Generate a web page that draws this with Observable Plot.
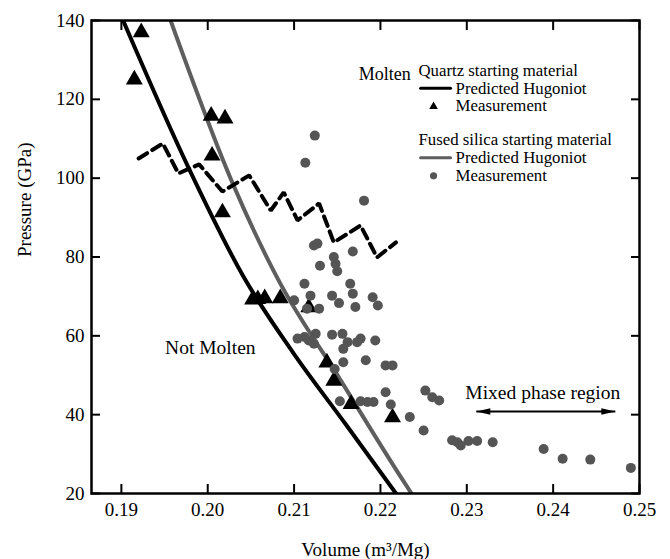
<!DOCTYPE html>
<html>
<head>
<meta charset="utf-8">
<script src="https://cdn.jsdelivr.net/npm/d3@7"></script>
<script src="https://cdn.jsdelivr.net/npm/@observablehq/plot@0.6"></script>
<style>
  body { margin: 0; background: #fff; }
  #chart svg { display: block; }
</style>
</head>
<body>
<div id="chart"></div>
<script>
// ---- Data ----
const xTicks = [0.19, 0.20, 0.21, 0.22, 0.23, 0.24, 0.25];
const yTicks = [20, 40, 60, 80, 100, 120, 140];

// Predicted Hugoniot, quartz starting material
const quartzHugV = [0.1902, 0.1977, 0.2042, 0.2098, 0.2160, 0.2218];
const quartzHugP = [140, 103, 74.8, 56, 37.5, 20];

// Predicted Hugoniot, fused silica starting material
const silicaHugV = [0.1957, 0.2030, 0.2081, 0.2154, 0.2225, 0.2236];
const silicaHugP = [140, 98.1, 74.5, 48.7, 23.7, 20];

// Melting boundary (dashed)
const meltV = [0.1920, 0.1948, 0.1966, 0.1990, 0.2017, 0.2048, 0.2073, 0.2088, 0.2104, 0.2129, 0.2146, 0.2177, 0.2196, 0.2218];
const meltP = [105.0, 108.8, 101.2, 103.5, 96.6, 100.7, 91.8, 96.4, 89.3, 93.6, 83.7, 88.0, 79.9, 83.7];

// Quartz measurements (triangles)
const quartzV = [0.1923, 0.1915, 0.2004, 0.2020, 0.2005, 0.2017, 0.2052, 0.2058, 0.2066, 0.2084, 0.2117, 0.2138, 0.2146, 0.2166, 0.2214];
const quartzP = [137.0, 125.0, 115.8, 115.1, 105.7, 91.3, 69.2, 69.3, 69.5, 69.5, 67.2, 53.2, 48.6, 42.7, 39.3];

// Fused silica measurements (circles)
const silicaV = [0.2124, 0.2113, 0.2181, 0.2127, 0.2123, 0.2168, 0.2130, 0.2146, 0.2148, 0.2150,
                 0.2112, 0.2165, 0.2119, 0.2144, 0.2168, 0.2191, 0.2152, 0.2171, 0.2197, 0.2100,
                 0.2115, 0.2129, 0.2104, 0.2112, 0.2117, 0.2125, 0.2123, 0.2144, 0.2156, 0.2162,
                 0.2173, 0.2177, 0.2194, 0.2157, 0.2157, 0.2183, 0.2206, 0.2214, 0.2147, 0.2206,
                 0.2252, 0.2260, 0.2268, 0.2153, 0.2177, 0.2185, 0.2192, 0.2212, 0.2234, 0.2250,
                 0.2283, 0.2289, 0.2293, 0.2302, 0.2312, 0.2330, 0.2389, 0.2411, 0.2443, 0.2490];
const silicaP = [110.8, 103.9, 94.3, 83.4, 82.9, 81.4, 77.8, 80.0, 78.3, 76.4,
                 73.2, 73.2, 70.2, 70.2, 70.7, 69.8, 68.3, 67.3, 67.7, 69.0,
                 66.9, 66.9, 59.3, 59.7, 58.8, 60.5, 58.0, 60.3, 60.5, 58.4,
                 58.4, 59.3, 58.8, 56.7, 53.3, 53.8, 52.5, 52.5, 51.6, 45.7,
                 46.1, 44.4, 43.6, 43.4, 43.4, 43.2, 43.2, 42.6, 39.4, 36.0,
                 33.5, 33.0, 32.2, 33.3, 33.3, 33.0, 31.3, 28.8, 28.6, 26.5];

const legendTitles = ["Quartz starting material", "Fused silica starting material"];
const legendItems = ["Predicted Hugoniot", "Measurement"];
const regionLabels = ["Molten", "Not Molten", "Mixed phase region"];

// ---- Build tables ----
const zip = (xs, ys) => xs.map((x, i) => ({x, y: ys[i]}));
const quartzHug = zip(quartzHugV, quartzHugP);
const silicaHug = zip(silicaHugV, silicaHugP);
const melt = zip(meltV, meltP);
const quartzPts = zip(quartzV, quartzP);
const silicaPts = zip(silicaV, silicaP);

// ---- Layout (annotation anchors, data units) ----
const LX = 0.2244, SW0 = 0.22465, SW1 = 0.22812, SX = 0.22615, TX = 0.2287;
const legendTextRows = [
  {t: legendTitles[0], x: LX, y: 127.4},
  {t: legendItems[0], x: TX, y: 122.8},
  {t: legendItems[1], x: TX, y: 118.4},
  {t: legendTitles[1], x: LX, y: 109.7},
  {t: legendItems[0], x: TX, y: 105.2},
  {t: legendItems[1], x: TX, y: 100.6}
];
const moltenText = [{t: regionLabels[0], x: 0.2205, y: 126.3}];
const regionText = [
  {t: regionLabels[1], x: 0.2003, y: 57.0},
  {t: regionLabels[2], x: 0.2388, y: 45.6}
];
const arrowY = 40.8, arrowL = 0.2311, arrowR = 0.2472;

// arrow heads as narrow filled triangles (tip at the origin)
const headLeft = {draw(ctx) { ctx.moveTo(0, 0); ctx.lineTo(14, -3.3); ctx.lineTo(14, 3.3); ctx.closePath(); }};
const headRight = {draw(ctx) { ctx.moveTo(0, 0); ctx.lineTo(-14, -3.3); ctx.lineTo(-14, 3.3); ctx.closePath(); }};

const FONT = "'Liberation Serif', 'Times New Roman', Times, serif";
const GRAY_LINE = "#5e5e5e", GRAY_DOT = "#555555";

const chart = Plot.plot({
  width: 670,
  height: 559,
  marginLeft: 91,
  marginRight: 31,
  marginTop: 20,
  marginBottom: 66,
  x: {domain: [0.18654, 0.25]},
  y: {domain: [20, 140]},
  style: {fontFamily: FONT, fontSize: "19px", background: "#fff", color: "#000"},
  marks: [
    // Hugoniot curves
    Plot.line(quartzHug, {x: "x", y: "y", stroke: "#000", strokeWidth: 4, curve: "monotone-x", clip: true}),
    Plot.line(silicaHug, {x: "x", y: "y", stroke: GRAY_LINE, strokeWidth: 4, curve: "monotone-x", clip: true}),
    // Melting boundary
    Plot.line(melt, {x: "x", y: "y", stroke: "#000", strokeWidth: 4, strokeDasharray: "10,6", strokeLinejoin: "miter"}),
    // Measurements
    Plot.dot(quartzPts, {x: "x", y: "y", symbol: "triangle", r: 6.3, fill: "#000", stroke: "none"}),
    Plot.dot(silicaPts, {x: "x", y: "y", r: 5, fill: GRAY_DOT, stroke: "none"}),

    // Legend
    Plot.text(legendTextRows, {x: "x", y: "y", text: "t", textAnchor: "start", lineAnchor: "middle", fontSize: 16.8, fill: "#000"}),
    Plot.line([{x: SW0, y: 122.8}, {x: SW1, y: 122.8}], {x: "x", y: "y", stroke: "#000", strokeWidth: 3}),
    Plot.line([{x: SW0, y: 105.2}, {x: SW1, y: 105.2}], {x: "x", y: "y", stroke: GRAY_LINE, strokeWidth: 3}),
    Plot.dot([{x: SX, y: 118.2}], {x: "x", y: "y", symbol: "triangle", r: 3.2, fill: "#000", stroke: "none"}),
    Plot.dot([{x: SX, y: 100.6}], {x: "x", y: "y", r: 3.6, fill: GRAY_DOT, stroke: "none"}),

    // Region annotations
    Plot.text(moltenText, {x: "x", y: "y", text: "t", textAnchor: "middle", lineAnchor: "middle", fontSize: 18, fill: "#000"}),
    Plot.text(regionText, {x: "x", y: "y", text: "t", textAnchor: "middle", lineAnchor: "middle", fontSize: 19.5, fill: "#000"}),
    Plot.link([{x1: arrowL, x2: arrowR, y: arrowY}], {x1: "x1", x2: "x2", y1: "y", y2: "y", stroke: "#000", strokeWidth: 2}),
    Plot.dot([{x: arrowL, y: arrowY}], {x: "x", y: "y", symbol: headLeft, fill: "#000", stroke: "none"}),
    Plot.dot([{x: arrowR, y: arrowY}], {x: "x", y: "y", symbol: headRight, fill: "#000", stroke: "none"}),

    // Frame and axes (inward ticks on all sides)
    Plot.frame({stroke: "#000", strokeWidth: 2.5}),
    Plot.axisX(xTicks, {anchor: "bottom", tickSize: 0, tickPadding: 9, tickFormat: d => d.toFixed(2), fontSize: 19, label: null}),
    Plot.axisX(xTicks, {anchor: "bottom", tickSize: 9, dy: -9, tickFormat: () => "", strokeWidth: 2, label: null}),
    Plot.axisX(xTicks, {anchor: "top", tickSize: 9, dy: 9, tickFormat: () => "", strokeWidth: 2, label: null}),
    Plot.axisY(yTicks, {anchor: "left", tickSize: 0, tickPadding: 7, fontSize: 19, label: null}),
    Plot.axisY(yTicks, {anchor: "left", tickSize: 9, dx: 9, tickFormat: () => "", strokeWidth: 2, label: null}),
    Plot.axisY(yTicks, {anchor: "right", tickSize: 9, dx: -9, tickFormat: () => "", strokeWidth: 2, label: null}),

    // Axis titles
    Plot.text(["Pressure (GPa)"], {frameAnchor: "left", dx: -67, rotate: -90, fontSize: 19, lineAnchor: "middle", fill: "#000"}),
    Plot.text(["Volume (m³/Mg)"], {frameAnchor: "bottom", dy: 56, fontSize: 19, lineAnchor: "middle", fill: "#000"})
  ]
});

document.getElementById("chart").appendChild(chart);
</script>
</body>
</html>
